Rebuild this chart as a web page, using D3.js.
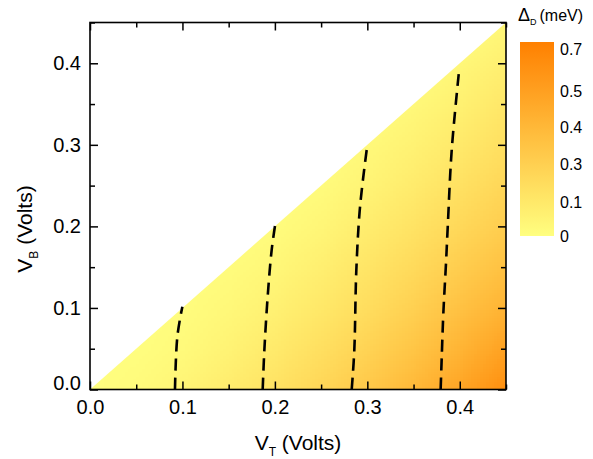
<!DOCTYPE html>
<html>
<head>
<meta charset="utf-8">
<script src="https://cdn.jsdelivr.net/npm/d3@7"></script>
<style>
  body { margin: 0; background: #fff; }
  svg { display: block; font-family: "Liberation Sans", Arial, Helvetica, sans-serif; }
</style>
</head>
<body>
<svg width="593" height="459"></svg>
<script>
// grid of Delta_D (meV), rows = V_B, cols = V_T
const vtGrid = [0, 0.05, 0.10, 0.15, 0.20, 0.25, 0.30, 0.35, 0.40, 0.45];
const vbGrid = [0, 0.05, 0.10, 0.15, 0.20, 0.25, 0.30, 0.35, 0.40, 0.45];
const deltaGrid = [
  [0, 0.015, 0.040, 0.075, 0.130, 0.220, 0.315, 0.380, 0.460, 0.590],
  [0, 0.003, 0.020, 0.047, 0.083, 0.149, 0.243, 0.329, 0.397, 0.470],
  [0, 0,     0.006, 0.026, 0.055, 0.092, 0.168, 0.267, 0.343, 0.400],
  [0, 0,     0,     0.010, 0.031, 0.062, 0.101, 0.188, 0.290, 0.345],
  [0, 0,     0,     0,     0.013, 0.036, 0.070, 0.118, 0.207, 0.290],
  [0, 0,     0,     0,     0,     0.017, 0.042, 0.078, 0.136, 0.220],
  [0, 0,     0,     0,     0,     0,     0.022, 0.050, 0.086, 0.150],
  [0, 0,     0,     0,     0,     0,     0,     0.027, 0.057, 0.093],
  [0, 0,     0,     0,     0,     0,     0,     0,     0.030, 0.062],
  [0, 0,     0,     0,     0,     0,     0,     0,     0,     0.030]
];

// dashed lines, [V_T, V_B]
const dashLines = [
  [[0.0919, 0], [0.0945, 0.065], [0.0999, 0.1015]],
  [[0.1868, 0], [0.1886, 0.048], [0.1922, 0.114], [0.1965, 0.171], [0.2001, 0.2005]],
  [[0.2831, 0], [0.2859, 0.048], [0.2881, 0.1465], [0.2921, 0.224], [0.2993, 0.2937]],
  [[0.3793, 0], [0.3805, 0.040], [0.3822, 0.093], [0.3851, 0.155], [0.3870, 0.200], [0.3913, 0.294], [0.3995, 0.394]]
];

const majorTicks = [0, 0.1, 0.2, 0.3, 0.4];
const minorTicks = [0.05, 0.15, 0.25, 0.35, 0.45];
const cbTicks = [0, 0.1, 0.3, 0.4, 0.5, 0.7];

const svg = d3.select("svg");
const plot = { left: 90, right: 506, top: 22.5, bottom: 389.5 };

const x = d3.scaleLinear().domain([0, 0.45]).range([plot.left, plot.right]);
const y = d3.scaleLinear().domain([0, 0.45]).range([plot.bottom, plot.top]);

// colour: value -> position on bar -> yellow..orange
const toT = d3.scaleLinear().domain(cbTicks).range([0, 0.2, 0.4, 0.6, 0.8, 1]).clamp(true);
const ramp = d3.interpolateRgb("#ffff80", "#ff8000");
const color = v => ramp(toT(v));

// heatmap drawn into a tiny canvas, smoothed by the browser when scaled up
const nx = vtGrid.length, ny = vbGrid.length;
const cnv = document.createElement("canvas");
cnv.width = nx; cnv.height = ny;
const ctx = cnv.getContext("2d");
const img = ctx.createImageData(nx, ny);
deltaGrid.forEach((row, j) => {
  row.forEach((v, i) => {
    const c = d3.rgb(color(v));
    const k = ((ny - 1 - j) * nx + i) * 4;
    img.data[k] = c.r; img.data[k + 1] = c.g; img.data[k + 2] = c.b; img.data[k + 3] = 255;
  });
});
ctx.putImageData(img, 0, 0);

const cw = (x(vtGrid[nx - 1]) - x(vtGrid[0])) / (nx - 1);
const ch = (y(vbGrid[0]) - y(vbGrid[ny - 1])) / (ny - 1);

svg.append("clipPath").attr("id", "tri")
  .append("path")
  .attr("d", `M${x(0)},${y(0)}L${x(0.45)},${y(0)}L${x(0.45)},${y(0.45)}Z`);

svg.append("image")
  .attr("href", cnv.toDataURL())
  .attr("x", x(vtGrid[0]) - cw / 2)
  .attr("y", y(vbGrid[ny - 1]) - ch / 2)
  .attr("width", cw * nx)
  .attr("height", ch * ny)
  .attr("preserveAspectRatio", "none")
  .attr("clip-path", "url(#tri)");

// dashed lines
const line = d3.line().x(d => x(d[0])).y(d => y(d[1])).curve(d3.curveCatmullRom);
svg.append("g").selectAll("path")
  .data(dashLines)
  .join("path")
    .attr("d", line)
    .attr("fill", "none")
    .attr("stroke", "#000")
    .attr("stroke-width", 2.6)
    .attr("stroke-dasharray", "12,7");

// axes, ticks inward on all four sides
const fmt = d3.format(".1f");
function addAxis(axisFn, scale, tf, vals, size, labels, pad) {
  const a = axisFn(scale).tickValues(vals).tickSizeInner(-size).tickSizeOuter(0)
    .tickPadding(pad).tickFormat(labels ? fmt : "");
  const g = svg.append("g").attr("transform", tf).call(a);
  g.select(".domain").remove();
  g.selectAll(".tick line").attr("stroke", "#000").attr("stroke-width", 1.5);
  g.selectAll(".tick text").attr("font-size", 20).attr("fill", "#000")
    .style("font-family", "inherit");
  return g;
}
addAxis(d3.axisBottom, x, `translate(0,${plot.bottom})`, majorTicks, 8, true, 10);
addAxis(d3.axisBottom, x, `translate(0,${plot.bottom})`, minorTicks, 5, false, 10);
addAxis(d3.axisTop, x, `translate(0,${plot.top})`, majorTicks, 8, false, 10);
addAxis(d3.axisTop, x, `translate(0,${plot.top})`, minorTicks, 5, false, 10);
const yAx = addAxis(d3.axisLeft, y, `translate(${plot.left},0)`, majorTicks, 8, true, 9);
addAxis(d3.axisLeft, y, `translate(${plot.left},0)`, minorTicks, 5, false, 9);
addAxis(d3.axisRight, y, `translate(${plot.right},0)`, majorTicks, 8, false, 9);
addAxis(d3.axisRight, y, `translate(${plot.right},0)`, minorTicks, 5, false, 9);
// lift the 0.0 label off the corner
yAx.selectAll(".tick text").filter(d => d === 0).attr("dy", "0.02em");

svg.append("rect")
  .attr("x", plot.left).attr("y", plot.top)
  .attr("width", plot.right - plot.left).attr("height", plot.bottom - plot.top)
  .attr("fill", "none").attr("stroke", "#000").attr("stroke-width", 1.6);

// axis titles
const xt = svg.append("text")
  .attr("x", (plot.left + plot.right) / 2).attr("y", 450)
  .attr("text-anchor", "middle").attr("font-size", 21);
xt.append("tspan").text("V");
xt.append("tspan").attr("font-size", 12).attr("dy", 6).text("T");
xt.append("tspan").attr("dy", -6).text(" (Volts)");

const yt = svg.append("text")
  .attr("transform", "translate(32,229) rotate(-90)")
  .attr("text-anchor", "middle").attr("font-size", 21);
yt.append("tspan").text("V");
yt.append("tspan").attr("font-size", 12).attr("dy", 6).text("B");
yt.append("tspan").attr("dy", -6).text(" (Volts)");

// colour bar
const cb = { x: 520, w: 34, top: 42, bottom: 236 };
const defs = svg.append("defs");
const grad = defs.append("linearGradient").attr("id", "cbgrad")
  .attr("x1", 0).attr("y1", 1).attr("x2", 0).attr("y2", 0);
grad.selectAll("stop")
  .data(d3.range(0, 1.001, 0.1))
  .join("stop")
    .attr("offset", d => `${d * 100}%`)
    .attr("stop-color", d => ramp(d));
svg.append("rect")
  .attr("x", cb.x).attr("y", cb.top)
  .attr("width", cb.w).attr("height", cb.bottom - cb.top)
  .attr("fill", "url(#cbgrad)");

const cbY = d3.scaleLinear().domain(cbTicks).range([236, 202.5, 164, 127.5, 91, 49]);
svg.append("g").selectAll("text")
  .data(cbTicks)
  .join("text")
    .attr("x", 560)
    .attr("y", d => cbY(d))
    .attr("dy", "0.36em")
    .attr("font-size", 16)
    .text(d => d === 0 ? "0" : fmt(d));

const ct = svg.append("text").attr("x", 518).attr("y", 21).attr("font-size", 18);
ct.append("tspan").text("Δ");
ct.append("tspan").attr("font-size", 9).attr("dy", 4).text("D");
ct.append("tspan").attr("font-size", 16).attr("dy", -4).attr("dx", 3).text("(meV)");
</script>
</body>
</html>
